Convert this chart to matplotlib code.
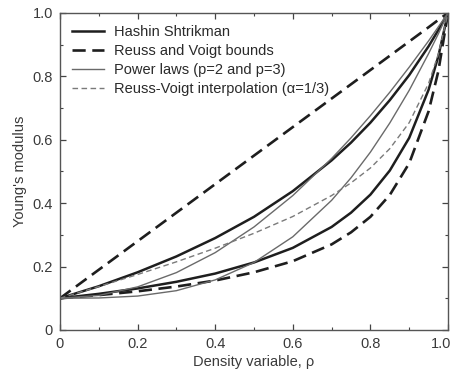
import matplotlib
matplotlib.use("Agg")
import matplotlib.pyplot as plt
import matplotlib.transforms as mtransforms

# density grid and moduli
rho = [0, 0.1, 0.2, 0.3, 0.4, 0.5, 0.6, 0.7, 0.75, 0.8, 0.85, 0.9, 0.95, 0.975, 1.0]
hs_upper = [0.1, 0.138, 0.182, 0.232, 0.290, 0.357, 0.438, 0.535, 0.591, 0.654, 0.725, 0.804, 0.895, 0.946, 1.0]
hs_lower = [0.1, 0.114, 0.131, 0.152, 0.178, 0.213, 0.259, 0.325, 0.370, 0.427, 0.503, 0.606, 0.758, 0.863, 1.0]
voigt = [0.1, 0.19, 0.28, 0.37, 0.46, 0.55, 0.64, 0.73, 0.775, 0.82, 0.865, 0.91, 0.955, 0.978, 1.0]
reuss = [0.1, 0.110, 0.122, 0.137, 0.156, 0.182, 0.217, 0.270, 0.308, 0.357, 0.426, 0.526, 0.690, 0.816, 1.0]
power2 = [0.1, 0.109, 0.136, 0.181, 0.244, 0.325, 0.424, 0.541, 0.606, 0.676, 0.750, 0.829, 0.912, 0.956, 1.0]
power3 = [0.1, 0.101, 0.107, 0.124, 0.158, 0.213, 0.294, 0.409, 0.480, 0.561, 0.653, 0.756, 0.872, 0.934, 1.0]
interp = [0.1, 0.137, 0.175, 0.215, 0.258, 0.305, 0.358, 0.424, 0.464, 0.511, 0.572, 0.654, 0.778, 0.870, 1.0]

xticks = [0, 0.2, 0.4, 0.6, 0.8, 1.0]
xticklabels = ["0", "0.2", "0.4", "0.6", "0.8", "1.0"]
yticklabels = ["0", "0.2", "0.4", "0.6", "0.8", "1.0"]

plt.rcParams["font.family"] = ["Liberation Sans", "DejaVu Sans"]
plt.rcParams["font.size"] = 10.5

fig = plt.figure(figsize=(4.52, 3.73), dpi=100)
ax = fig.add_axes([0.1327, 0.1153, 0.8585, 0.85])

dark = "#1e1e1e"
grey = "#6a6a6a"

ax.plot(rho, hs_upper, color=dark, lw=1.8, label="Hashin Shtrikman")
ax.plot(rho, hs_lower, color=dark, lw=1.8)
ax.plot(rho, voigt, color=dark, lw=1.9, dashes=(5, 2.5), label="Reuss and Voigt bounds")
ax.plot(rho, reuss, color=dark, lw=1.9, dashes=(5, 2.5))
ax.plot(rho, power2, color=grey, lw=1.0, label="Power laws (p=2 and p=3)")
ax.plot(rho, power3, color=grey, lw=1.0)
ax.plot(rho, interp, color="#7a7a7a", lw=1.0, dashes=(4, 2.5),
        label="Reuss-Voigt interpolation (\u03b1=1/3)")

ax.set_xlim(0, 1)
ax.set_ylim(0, 1)
ax.set_xticks(xticks)
ax.set_xticklabels(xticklabels)
ax.set_yticks(xticks)
ax.set_yticklabels(yticklabels)
ax.set_xticks([0.1, 0.3, 0.5, 0.7, 0.9], minor=True)
ax.set_yticks([0.1, 0.3, 0.5, 0.7, 0.9], minor=True)
ax.tick_params(which="both", direction="in", top=True, right=True,
               color="#444444", labelcolor="#3a3a3a")
ax.tick_params(which="major", length=4.5, width=0.9, pad=5)
ax.tick_params(which="minor", length=2.5, width=0.8)
for s in ax.spines.values():
    s.set_color("#555555")
    s.set_linewidth(1.0)

# last x label sits at the figure edge, pull it in a little
last = ax.get_xticklabels()[-1]
last.set_transform(last.get_transform() +
                   mtransforms.ScaledTranslation(-7 / 100, 0, fig.dpi_scale_trans))

ax.set_xlabel("Density variable, \u03c1", color="#3a3a3a", labelpad=3)
ax.set_ylabel("Young's modulus", color="#3a3a3a", labelpad=4)

ax.legend(loc="upper left", frameon=False, handlelength=2.2, handletextpad=0.7,
          labelspacing=0.35, borderaxespad=0.4, labelcolor="#2a2a2a")

fig.savefig("out.png", dpi=100)
